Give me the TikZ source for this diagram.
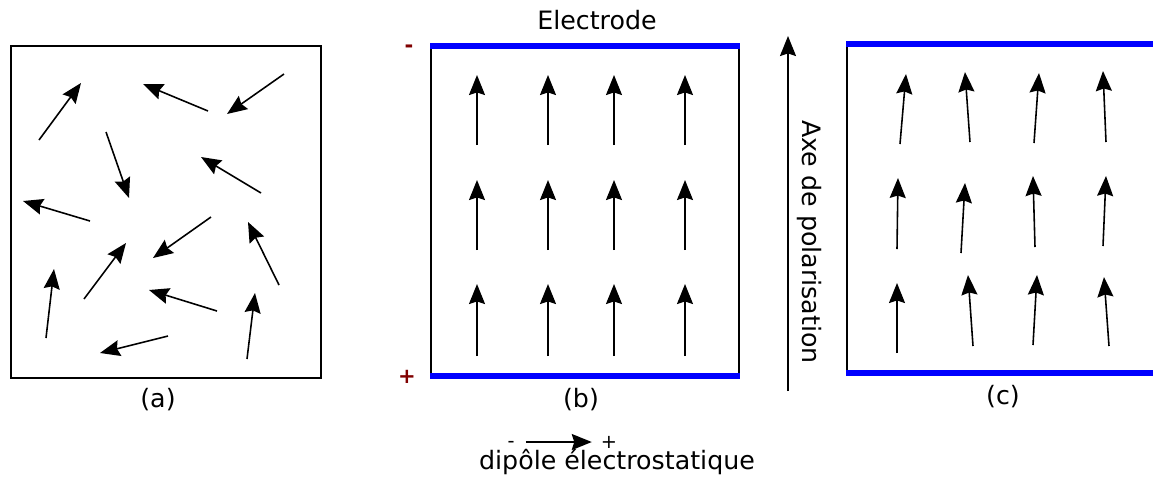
\documentclass[tikz,border=0pt]{standalone}
\usepackage{fontspec}
\setmainfont{DejaVu Sans}
\usetikzlibrary{arrows.meta}
\definecolor{elecblue}{RGB}{0,0,255}
\definecolor{signred}{RGB}{128,0,0}

\begin{document}
\begin{tikzpicture}[x=0.02cm,y=-0.02cm,font=\fontsize{14.4}{17}\selectfont]
  \tikzstyle{dip}=[-{Stealth[length=0.4cm,width=0.32cm,inset=0.05cm]},line width=0.9pt]
  \tikzstyle{elec}=[elecblue,line width=3.4pt]
  \tikzstyle{wall}=[black,line width=1.1pt]
  \tikzstyle{sign}=[signred,font=\bfseries\fontsize{12}{14}\selectfont,inner sep=0pt]
  \tikzstyle{lbl}=[inner sep=1pt]
  \useasboundingbox (0,0) rectangle (1153,478);

  % (a) dipoles in disorder
  \draw[wall] (11,46) rectangle (321,378);
  \foreach \xa/\ya/\xb/\yb in {39/140/81/83, 208/111/143/84, 284/74/227/114,
      106/132/129/198, 261/193/201/157, 90/221/23/201, 211/217/153/258,
      84/299/126/243, 279/285/248/222, 46/338/54/269, 217/311/149/290,
      168/336/100/353, 247/359/255/293}
    \draw[dip] (\xa,\ya) -- (\xb,\yb);
  \node[lbl] (la) at (158,400) {(a)};

  % (b) between the electrodes
  \draw[wall] (431,46) -- (431,376);
  \draw[wall] (739,46) -- (739,376);
  \draw[elec] (430,46) -- (740,46);
  \draw[elec] (430,376) -- (740,376);
  \foreach \x in {477,548,614,685}
    \foreach \ya/\yb in {356/284, 250/180, 145/75}
      \draw[dip] (\x,\ya) -- (\x,\yb);
  \node[lbl] (elec) at (597,20) {Electrode};
  \node[sign] (minus) at (409,49) {-};
  \node[sign] (plus) at (407,377) {+};
  \node[lbl] (lb) at (581,400) {(b)};

  % polarisation axis
  \coordinate (axbot) at (788,391);
  \coordinate (axtop) at (788,36);
  \draw[dip] (axbot) -- (axtop);
  \node[rotate=-90,lbl] (axe) at (809,242) {Axe de polarisation};

  % (c) after removing the field
  \draw[wall] (847,44) -- (847,373);
  \draw[elec] (846,44) -- (1153,44);
  \draw[elec] (846,373) -- (1153,373);
  \foreach \xa/\ya/\xb/\yb in {900/144/906/74, 970/142/965/72, 1034/143/1039/73,
      1106/142/1103/71, 897/249/898/178, 961/253/965/183, 1035/247/1033/176,
      1103/246/1106/176, 897/353/897/283, 973/346/968/275, 1033/345/1037/275,
      1109/346/1104/277}
    \draw[dip] (\xa,\ya) -- (\xb,\yb);
  \node[lbl] (lc) at (1003,397) {(c)};

  % legend
  \node[font=\fontsize{11}{13}\selectfont,inner sep=0pt] (lminus) at (511,444) {-};
  \node[font=\fontsize{11}{13}\selectfont,inner sep=0pt] (lplus) at (609,442) {+};
  \draw[dip] (lminus.east |- lplus) ++(11,0) -- ([xshift=-5pt]lplus.west);
  \node[lbl] (dipole) at (617,462) {dipôle électrostatique};
\end{tikzpicture}
\end{document}
